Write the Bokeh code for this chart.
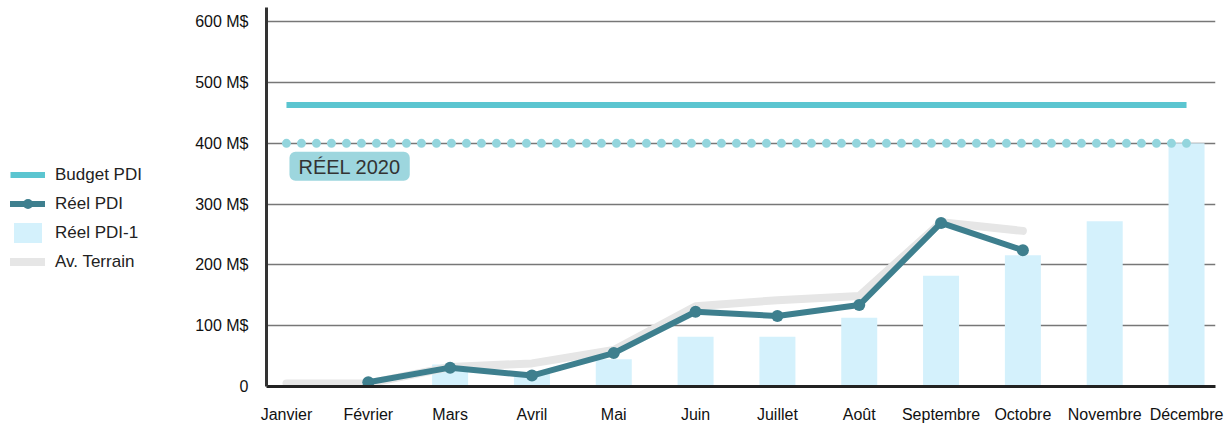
from bokeh.plotting import figure
from bokeh.layouts import row
from bokeh.models import Range1d, FixedTicker, Legend, LegendItem, Label, ColumnDataSource
from bokeh.embed import file_html
from bokeh.resources import INLINE

NaN = float("nan")

# ---- data ----
months = ["Janvier", "Février", "Mars", "Avril", "Mai", "Juin", "Juillet",
          "Août", "Septembre", "Octobre", "Novembre", "Décembre"]
budget_pdi = [463, 463, 463, 463, 463, 463, 463, 463, 463, 463, 463, 463]
reel_2020 = [400, 400, 400, 400, 400, 400, 400, 400, 400, 400, 400, 400]
reel_pdi = [NaN, 7, 31, 18, 55, 123, 116, 134, 269, 224, NaN, NaN]
reel_pdi_1 = [NaN, NaN, 36, 23, 45, 82, 82, 113, 182, 216, 272, 400]
av_terrain = [5, 5, 32, 38, 60, 132, 142, 149, 270, 256, NaN, NaN]
y_ticks = [0, 100, 200, 300, 400, 500, 600]
y_tick_labels = ["0", "100 M$", "200 M$", "300 M$", "400 M$", "500 M$", "600 M$"]
ref_label = "RÉEL 2020"
series_names = ["Budget PDI", "Réel PDI", "Réel PDI-1", "Av. Terrain"]

# ---- styles ----
FONT = "Liberation Sans"
C_BUDGET = "#5bc5d0"
C_PDI = "#3e7f8e"
C_PDI1 = "#d4f1fc"
C_TERRAIN = "#e6e6e6"
C_DOTS = "#93d5dd"

x_idx = list(range(len(months)))
src = ColumnDataSource(dict(x=x_idx, month=months, budget=budget_pdi, reel2020=reel_2020,
                            pdi=reel_pdi, pdi1=reel_pdi_1, terrain=av_terrain))

# ---- main chart ----
p = figure(width=1032, height=427, output_backend="svg", toolbar_location=None,
           x_range=Range1d(-0.244, 11.354), y_range=Range1d(0, 623.4),
           min_border_left=72, min_border_right=9, min_border_top=7, min_border_bottom=41)
p.outline_line_color = None
p.background_fill_color = "white"
p.border_fill_color = "white"

p.vbar(x="x", top="pdi1", width=0.44, source=src, fill_color=C_PDI1, line_color=None)
p.line("x", "terrain", source=src, line_color=C_TERRAIN, line_width=8,
       line_cap="round", line_join="round")
p.line("x", "reel2020", source=src, line_color=C_DOTS, line_width=9,
       line_dash="0 15", line_cap="round")
p.line("x", "budget", source=src, line_color=C_BUDGET, line_width=6)
p.line("x", "pdi", source=src, line_color=C_PDI, line_width=6,
       line_cap="round", line_join="round")
p.scatter("x", "pdi", source=src, size=12, fill_color=C_PDI, line_color=None)

p.xgrid.visible = False
p.ygrid.ticker = FixedTicker(ticks=y_ticks[1:])
p.ygrid.grid_line_color = "#777777"
p.ygrid.grid_line_width = 1.5

for ax in (p.xaxis[0], p.yaxis[0]):
    ax.major_tick_out = 0
    ax.major_tick_in = 0
    ax.minor_tick_out = 0
    ax.minor_tick_in = 0
    ax.major_label_text_font = FONT
    ax.major_label_text_font_size = "16px"
    ax.major_label_text_color = "#111111"

p.yaxis.ticker = FixedTicker(ticks=y_ticks)
p.yaxis.major_label_overrides = dict(zip(y_ticks, y_tick_labels))
p.yaxis.axis_line_color = "#333333"
p.yaxis.axis_line_width = 3
p.yaxis.major_label_standoff = 18

p.xaxis.ticker = FixedTicker(ticks=x_idx)
p.xaxis.major_label_overrides = dict(zip(x_idx, months))
p.xaxis.axis_line_color = "#222222"
p.xaxis.axis_line_width = 3
p.xaxis.major_label_standoff = 19

lbl = Label(x=0, y=400, x_offset=3, y_offset=-8.5, text=ref_label,
            text_font=FONT, text_font_size="20px", text_color="#333333",
            text_align="left", text_baseline="top",
            background_fill_color="#9dd6de", border_radius=6,
            padding=dict(left=9, right=9, top=4, bottom=3))
p.add_layout(lbl)

# ---- legend panel (left) ----
lg = figure(width=192, height=427, output_backend="svg", toolbar_location=None,
            x_range=Range1d(0, 1), y_range=Range1d(0, 1),
            min_border_left=0, min_border_right=0, min_border_top=0, min_border_bottom=0)
lg.axis.visible = False
lg.grid.visible = False
lg.outline_line_color = None
lg.background_fill_color = "white"
lg.border_fill_color = "white"
# legend swatches only: renderers holding a single non-drawable (NaN) point
swatch = ColumnDataSource(dict(x=[NaN], y=[NaN]))
r_budget = lg.line("x", "y", source=swatch, line_color=C_BUDGET, line_width=6)
r_pdi_l = lg.line("x", "y", source=swatch, line_color=C_PDI, line_width=6, line_cap="round")
r_pdi_s = lg.scatter("x", "y", source=swatch, size=11, fill_color=C_PDI, line_color=None)
r_pdi1 = lg.vbar(x="x", top="y", width=0.5, source=swatch, fill_color=C_PDI1, line_color=None)
r_terrain = lg.line("x", "y", source=swatch, line_color=C_TERRAIN, line_width=8, line_cap="round")

legend = Legend(items=[
    LegendItem(label=series_names[0], renderers=[r_budget]),
    LegendItem(label=series_names[1], renderers=[r_pdi_l, r_pdi_s]),
    LegendItem(label=series_names[2], renderers=[r_pdi1]),
    LegendItem(label=series_names[3], renderers=[r_terrain]),
], location=(10, 112), orientation="vertical", glyph_width=35, glyph_height=25,
    spacing=4, label_standoff=10, padding=0, margin=0, border_line_color=None,
    background_fill_alpha=0, label_text_font=FONT, label_text_font_size="17px",
    label_text_color="#222222")
lg.add_layout(legend)

layout = row(lg, p)
open("out.html", "w").write(file_html(layout, INLINE))
